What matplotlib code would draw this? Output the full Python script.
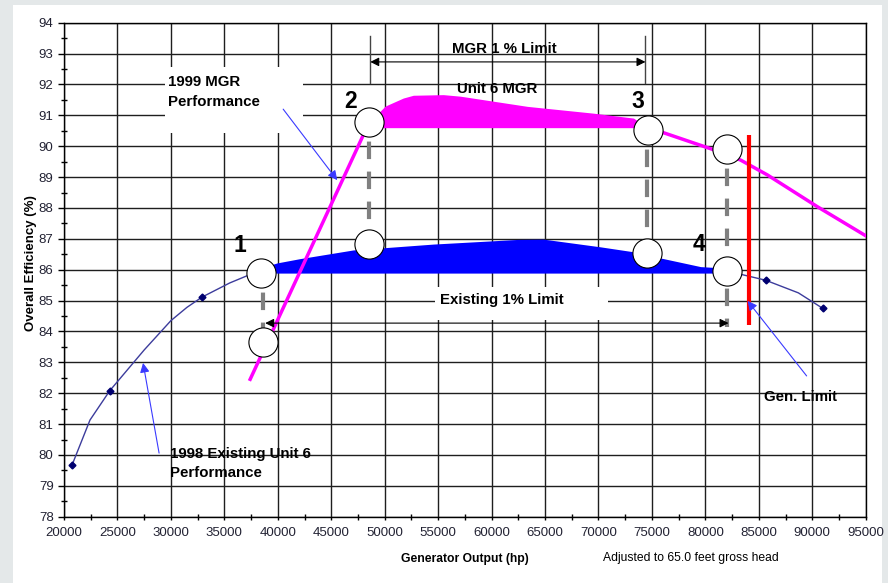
import matplotlib
matplotlib.use("Agg")
import matplotlib.pyplot as plt
import matplotlib.font_manager as fm
from matplotlib.patches import Rectangle
from matplotlib.ticker import MultipleLocator

# ---- 1998 existing Unit 6 performance (thin curve) ----
existing_x = [20750, 22430, 24280, 27500, 30000, 31500, 32900, 35500, 37100, 38450]
existing_y = [79.67, 81.13, 82.08, 83.40, 84.35, 84.78, 85.11, 85.57, 85.80, 85.90]
existing_tail_x = [81990, 85630, 88700, 90970]
existing_tail_y = [85.96, 85.66, 85.25, 84.75]
existing_marker_x = [20750, 24280, 32900, 85630, 90970]
existing_marker_y = [79.67, 82.08, 85.11, 85.66, 84.75]

# existing 1% operating band (blue)
band_x = [38450, 39940, 42100, 47060, 49870, 54550, 62420, 64850,
          70190, 73280, 75800, 79550, 81990]
band_top = [86.06, 86.22, 86.36, 86.64, 86.71, 86.83, 86.98, 86.99,
            86.74, 86.58, 86.38, 86.10, 86.05]
band_floor = 85.89

# ---- 1999 MGR performance ----
mgr_rise_x = [37415, 48560]
mgr_rise_y = [82.45, 90.78]
mgr_band_x = [48560, 50050, 51740, 52680, 55490, 57080, 63350, 69530, 73280, 74590]
mgr_band_top = [90.78, 91.30, 91.56, 91.65, 91.67, 91.62, 91.29, 91.07, 90.91, 90.60]
mgr_band_floor = 90.60
mgr_tail_x = [74590, 75800, 80650, 83300, 85800, 90480, 95000]
mgr_tail_y = [90.53, 90.47, 89.90, 89.55, 89.07, 88.04, 87.10]

# operating points (circles)
point_x = [38450, 48560, 74590, 81990, 48560, 74500, 38630, 81990]
point_y = [85.90, 90.79, 90.53, 89.91, 86.84, 86.55, 83.67, 85.96]
point_labels = ["1", "2", "3", "4"]
label_x = [36480, 46780, 73650, 79360]
label_y = [86.79, 91.45, 91.45, 86.83]

# vertical drop lines between circle pairs
drop_x = [38630, 48560, 74550, 81990]
drop_top = [85.90, 90.79, 90.53, 89.91]
drop_bottom = [83.67, 86.84, 86.55, 84.15]

# generator limit
gen_limit_x = 84040
gen_limit_lo, gen_limit_hi = 84.20, 90.36

# 1% limit spans
existing_limit = (38820, 82170, 84.27)
mgr_limit = (48650, 74400, 92.73)

x_ticks = list(range(20000, 95001, 5000))
y_ticks = list(range(78, 95))

# ---- fonts ----
names = {f.name for f in fm.fontManager.ttflist}
base_font = "Liberation Sans" if "Liberation Sans" in names else "DejaVu Sans"
tick_font = "Liberation Sans Narrow" if "Liberation Sans Narrow" in names else base_font
tick_size = 10.5 if tick_font == "Liberation Sans Narrow" else 9.5
plt.rcParams["font.family"] = [base_font, "DejaVu Sans"]

fig = plt.figure(figsize=(8.88, 5.83), dpi=100, facecolor="#e4e8e9")
fig.patches.append(Rectangle((13 / 888, 0), 869 / 888, 578 / 583,
                             transform=fig.transFigure, facecolor="white",
                             edgecolor="none", zorder=-10))

ax = fig.add_axes([64 / 888, 66.3 / 583, 801.7 / 888, 494 / 583])
ax.set_facecolor("white")
ax.set_xlim(20000, 95000)
ax.set_ylim(78, 94)
ax.set_xticks(x_ticks)
ax.set_yticks(y_ticks)
ax.xaxis.set_minor_locator(MultipleLocator(2500))
ax.yaxis.set_minor_locator(MultipleLocator(0.5))
ax.grid(True, which="major", color="#1e1e1e", lw=1.0, zorder=0.5)
ax.set_axisbelow(True)
for s in ax.spines.values():
    s.set_color("black")
    s.set_linewidth(1.0)

ax.tick_params(axis="x", which="major", direction="out", length=2.5, width=1,
               pad=5.0, labelsize=tick_size, labelcolor="#222233")
ax.tick_params(axis="x", which="minor", direction="inout", length=4, width=1)
ax.tick_params(axis="y", which="major", direction="out", length=4, width=1,
               pad=3.5, labelsize=tick_size, labelcolor="#222233")
ax.tick_params(axis="y", which="minor", direction="inout", length=4, width=1)
for lab in ax.get_xticklabels() + ax.get_yticklabels():
    lab.set_fontfamily(tick_font)

# white boxes behind the two boxed annotations
ax.add_patch(Rectangle((29457, 90.43), 42378 - 29457, 92.56 - 90.43,
                       facecolor="white", edgecolor="none", zorder=1))
ax.add_patch(Rectangle((54737, 84.36), 70935 - 54737, 85.44 - 84.36,
                       facecolor="white", edgecolor="none", zorder=1))

# existing performance curve
ax.plot(existing_x, existing_y, color="#3c3c9c", lw=1.0, zorder=3)
ax.plot(existing_tail_x, existing_tail_y, color="#3c3c9c", lw=1.0, zorder=3)
ax.plot(existing_marker_x, existing_marker_y, ls="none", marker="D",
        ms=3.5, color="#000070", zorder=3.5)
ax.fill_between(band_x, band_floor, band_top, color="#0000ff", lw=0, zorder=3)

# MGR performance curve
ax.plot(mgr_rise_x, mgr_rise_y, color="#ff00ff", lw=2.5, zorder=3)
ax.plot(mgr_tail_x, mgr_tail_y, color="#ff00ff", lw=2.5, zorder=3)
ax.fill_between(mgr_band_x, mgr_band_floor, mgr_band_top, color="#ff00ff",
                lw=0, zorder=3)

# gray drop lines
for x, t, b in zip(drop_x, drop_top, drop_bottom):
    ax.plot([x, x], [t, b], color="#808080", lw=3, ls=(2.5, (4.2, 3.0)),
            solid_capstyle="butt", dash_capstyle="butt", zorder=4)

# generator limit
ax.plot([gen_limit_x, gen_limit_x], [gen_limit_lo, gen_limit_hi],
        color="#ff0000", lw=3, solid_capstyle="butt", zorder=4.5)

# circles
ax.plot(point_x, point_y, ls="none", marker="o", ms=21, mfc="white",
        mec="black", mew=0.8, zorder=5)

# limit arrows
x0, x1, y = existing_limit
ax.annotate("", xy=(x1, y), xytext=(x0, y),
            arrowprops=dict(arrowstyle="<|-|>", color="black", lw=0.8,
                            mutation_scale=13, shrinkA=0, shrinkB=0), zorder=6)
x0, x1, y = mgr_limit
ax.annotate("", xy=(x1, y), xytext=(x0, y),
            arrowprops=dict(arrowstyle="<|-|>", color="black", lw=0.8,
                            mutation_scale=13, shrinkA=0, shrinkB=0), zorder=6)
for x in (x0, x1):
    ax.plot([x, x], [92.05, 93.57], color="#444444", lw=1.0, zorder=6)

# pointer arrows
arrow_kw = dict(arrowstyle="-|>", color="#3a3aff", lw=0.8,
                mutation_scale=14, shrinkA=0, shrinkB=0)
ax.annotate("", xy=(45560, 88.90), xytext=(40505, 91.20), arrowprops=arrow_kw, zorder=6)
ax.annotate("", xy=(27397, 82.98), xytext=(28895, 80.06), arrowprops=arrow_kw, zorder=6)
ax.annotate("", xy=(83949, 84.99), xytext=(89473, 82.56), arrowprops=arrow_kw, zorder=6)

# text
bold = dict(fontsize=10.8, fontweight="bold", color="black", zorder=7)
ax.text(29700, 91.77, "1999 MGR\nPerformance", ha="left", va="center",
        linespacing=1.55, **bold)
ax.text(29925, 79.71, "1998 Existing Unit 6\nPerformance", ha="left",
        va="center", linespacing=1.45, **bold)
ax.text(61200, 93.16, "MGR 1 % Limit", ha="center", va="center", **bold)
ax.text(60540, 91.86, "Unit 6 MGR", ha="center", va="center", **bold)
ax.text(55205, 85.01, "Existing 1% Limit", ha="left", va="center", **bold)
ax.text(85448, 81.88, "Gen. Limit", ha="left", va="center", **bold)
for t, x, y in zip(point_labels, label_x, label_y):
    ax.text(x, y, t, ha="center", va="center", fontsize=16.5,
            fontweight="bold", color="black", zorder=7)

fig.text(31 / 888, 1 - 263 / 583, "Overall Efficiency (%)", rotation=90,
         ha="center", va="center", fontsize=9.5, fontweight="bold")
fig.text(465 / 888, 1 - 559 / 583, "Generator Output (hp)", ha="center",
         va="center", fontsize=8.7, fontweight="bold")
fig.text(691 / 888, 1 - 558 / 583, "Adjusted to 65.0 feet gross head",
         ha="center", va="center", fontsize=8.7)

fig.savefig("out.png", dpi=100, facecolor=fig.get_facecolor())
